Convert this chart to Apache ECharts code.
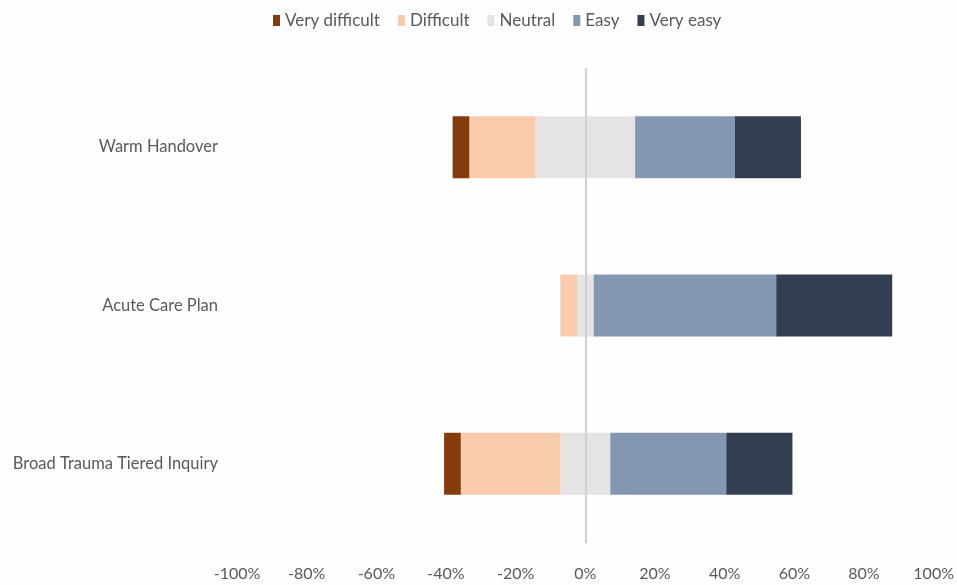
<!DOCTYPE html>
<html>
<head>
<meta charset="utf-8">
<script src="https://cdn.jsdelivr.net/npm/echarts@6/dist/echarts.min.js"></script>
<style>
html,body{margin:0;padding:0;background:#fefefe;}
#chart{width:957px;height:585px;}
</style>
</head>
<body>
<div id="chart"></div>
<script>
var categories = ['Broad Trauma Tiered Inquiry', 'Acute Care Plan', 'Warm Handover'];
var veryDifficult = [4.8, 0, 4.8];
var difficult = [28.6, 4.8, 19.0];
var neutral = [14.3, 4.8, 28.6];
var easy = [33.3, 52.4, 28.6];
var veryEasy = [19.0, 33.3, 19.0];
var xTicks = [-100, -80, -60, -40, -20, 0, 20, 40, 60, 80, 100];
var legendNames = ['Very difficult', 'Difficult', 'Neutral', 'Easy', 'Very easy'];

var colors = {
  'Very difficult': '#843C0C',
  'Difficult': '#F8CBAD',
  'Neutral': '#E4E4E4',
  'Easy': '#8497B0',
  'Very easy': '#333F50'
};
var FONT = 'Lato, "Open Sans", sans-serif';

function neg(a){ return a.map(function(v){ return -v; }); }
function half(a, s){ return a.map(function(v){ return s * v / 2; }); }

function bar(name, data){
  return {
    name: name, type: 'bar', stack: 'total', data: data,
    barWidth: 62,
    itemStyle: { color: colors[name] },
    emphasis: { disabled: true }
  };
}

var chart = echarts.init(document.getElementById('chart'), null, {renderer: 'canvas'});
chart.setOption({
  backgroundColor: '#fefefe',
  animation: false,
  textStyle: { fontFamily: FONT },
  legend: {
    data: legendNames.map(function(n){ return { name: n, icon: 'rect' }; }),
    top: 7, left: 268,
    itemWidth: 7, itemHeight: 11, itemGap: 18,
    textStyle: { color: '#595959', fontSize: 17, fontFamily: FONT }
  },
  grid: { left: 237, right: 19, top: 68, bottom: 42, containLabel: false },
  xAxis: {
    type: 'value', min: xTicks[0], max: xTicks[xTicks.length - 1], interval: 20,
    axisLine: { show: false }, axisTick: { show: false },
    splitLine: { show: false },
    axisLabel: {
      color: '#595959', fontSize: 16, fontFamily: FONT, margin: 23,
      formatter: function(v){ return v + '%'; }
    }
  },
  yAxis: {
    type: 'category', data: categories,
    axisLine: { show: false }, axisTick: { show: false },
    axisLabel: { color: '#595959', fontSize: 16.5, fontFamily: FONT, margin: 19 }
  },
  series: [
    bar('Neutral', half(neutral, -1)),
    bar('Difficult', neg(difficult)),
    bar('Very difficult', neg(veryDifficult)),
    bar('Neutral', half(neutral, 1)),
    bar('Easy', easy),
    bar('Very easy', veryEasy),
    {
      type: 'line', data: [], silent: true,
      markLine: {
        symbol: 'none', silent: true, label: { show: false },
        lineStyle: { color: '#D0D0D0', width: 2, type: 'solid' },
        data: [{ xAxis: 0 }]
      }
    }
  ]
});
</script>
</body>
</html>
